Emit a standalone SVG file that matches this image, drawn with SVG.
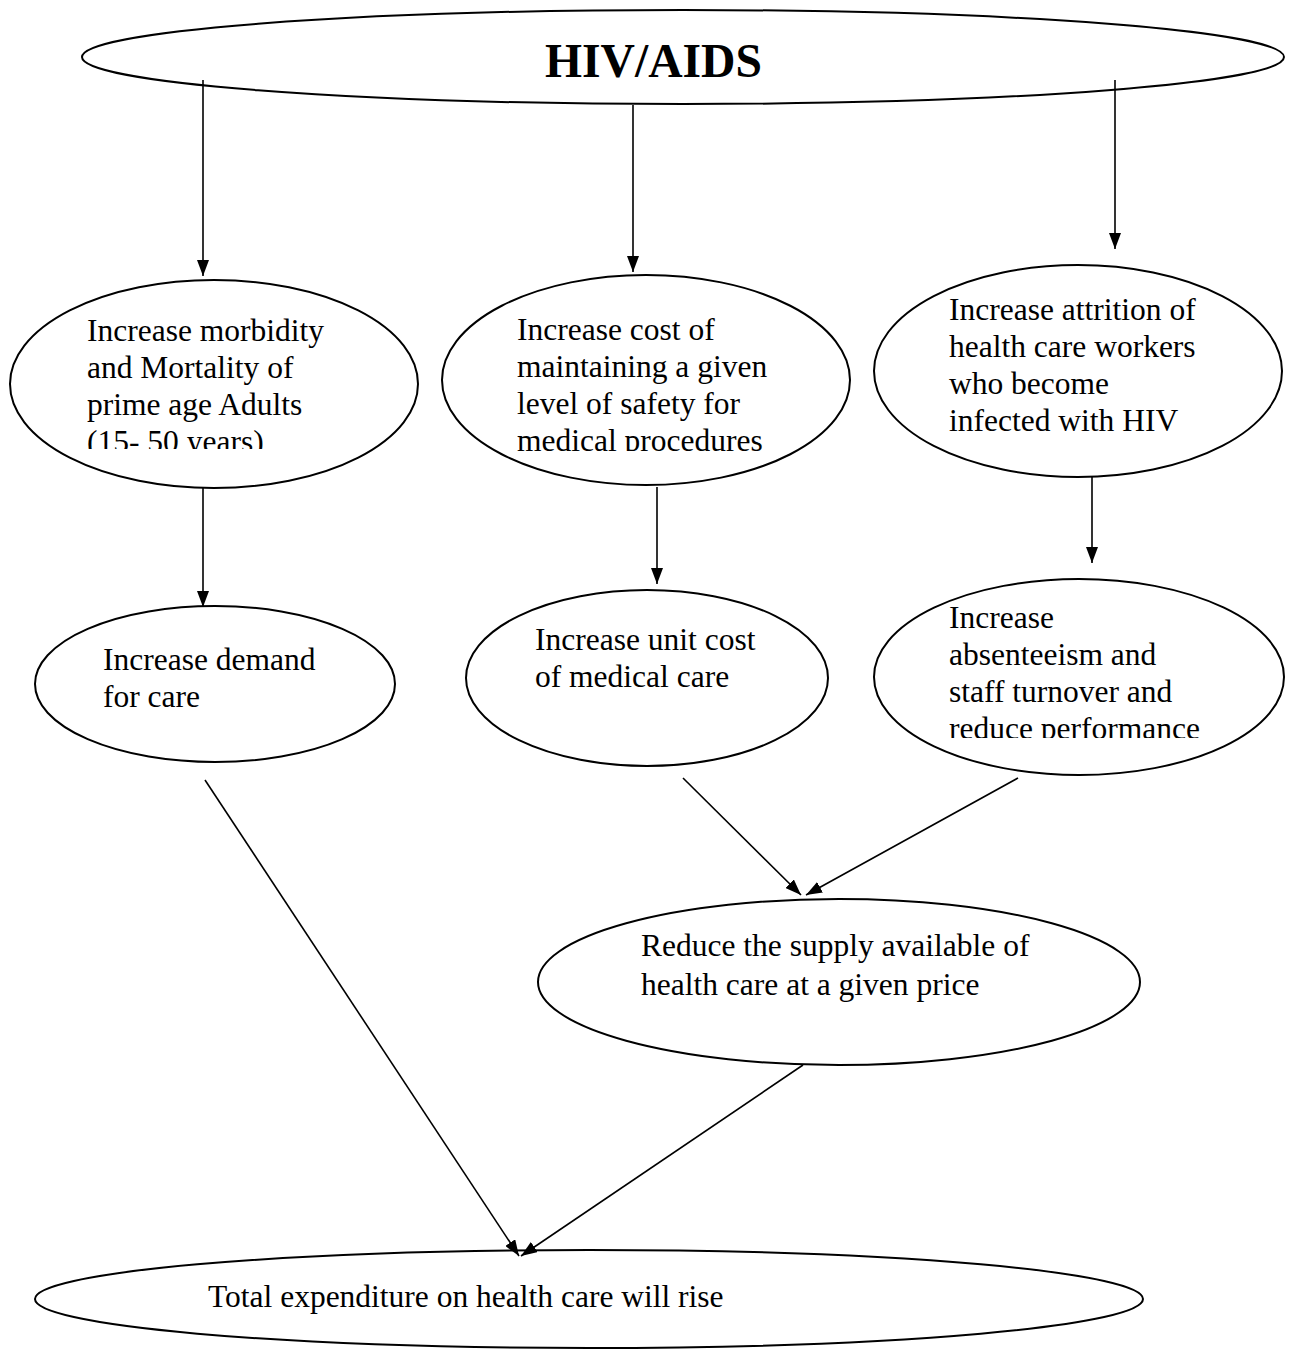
<svg xmlns="http://www.w3.org/2000/svg" width="1292" height="1349" viewBox="0 0 1292 1349">
<style>
.n{fill:#fff;stroke:#000;stroke-width:2}
.t{font-family:"Liberation Serif","Times New Roman",serif;font-size:31.5px;fill:#000}
.h{font-family:"Liberation Serif","Times New Roman",serif;font-size:48px;font-weight:bold;fill:#000}
.c{stroke:#000;stroke-width:1.6;fill:none;marker-end:url(#ah)}
</style>
<defs>
<marker id="ah" viewBox="0 0 16 12" refX="16" refY="6" markerWidth="16" markerHeight="12" markerUnits="userSpaceOnUse" orient="auto">
<path d="M0,0 L16,6 L0,12 Z" fill="#000"/>
</marker>
<clipPath id="c1"><rect x="0" y="280" width="440" height="169"/></clipPath>
<clipPath id="c2"><rect x="440" y="270" width="420" height="181"/></clipPath>
<clipPath id="c6"><rect x="870" y="575" width="420" height="163"/></clipPath>
</defs>
<rect width="1292" height="1349" fill="#fff"/>
<g id="n0">
<ellipse class="n" cx="683" cy="57" rx="601" ry="47"/>
<text class="h" x="545" y="77" textLength="217" lengthAdjust="spacingAndGlyphs">HIV/AIDS</text>
</g>
<g id="n1">
<ellipse class="n" cx="214" cy="384" rx="204" ry="104"/>
<text class="t" clip-path="url(#c1)"><tspan x="87" y="341">Increase morbidity</tspan><tspan x="87" y="378">and Mortality of</tspan><tspan x="87" y="415">prime age Adults</tspan><tspan x="87" y="452">(15- 50 years)</tspan></text>
</g>
<g id="n2">
<ellipse class="n" cx="646" cy="380" rx="204" ry="105"/>
<text class="t" clip-path="url(#c2)"><tspan x="517" y="340">Increase cost of</tspan><tspan x="517" y="377">maintaining a given</tspan><tspan x="517" y="414">level of safety for</tspan><tspan x="517" y="451">medical procedures</tspan></text>
</g>
<g id="n3">
<ellipse class="n" cx="1078" cy="371" rx="204" ry="106"/>
<text class="t"><tspan x="949" y="320">Increase attrition of</tspan><tspan x="949" y="357">health care workers</tspan><tspan x="949" y="394">who become</tspan><tspan x="949" y="431">infected with HIV</tspan></text>
</g>
<g id="n4">
<ellipse class="n" cx="215" cy="684" rx="180" ry="78"/>
<text class="t"><tspan x="103" y="670">Increase demand</tspan><tspan x="103" y="707">for care</tspan></text>
</g>
<g id="n5">
<ellipse class="n" cx="647" cy="678" rx="181" ry="88"/>
<text class="t"><tspan x="535" y="650">Increase unit cost</tspan><tspan x="535" y="687">of medical care</tspan></text>
</g>
<g id="n6">
<ellipse class="n" cx="1079" cy="677" rx="205" ry="98"/>
<text class="t" clip-path="url(#c6)"><tspan x="949" y="628">Increase</tspan><tspan x="949" y="665">absenteeism and</tspan><tspan x="949" y="702">staff turnover and</tspan><tspan x="949" y="739">reduce performance</tspan></text>
</g>
<g id="n7">
<ellipse class="n" cx="839" cy="982" rx="301" ry="83"/>
<text class="t"><tspan x="641" y="956">Reduce the supply available of</tspan><tspan x="641" y="995">health care at a given price</tspan></text>
</g>
<g id="n8">
<ellipse class="n" cx="589" cy="1299" rx="554" ry="49"/>
<text class="t" x="208" y="1307">Total expenditure on health care will rise</text>
</g>
<g id="connectors">
<line class="c" x1="203" y1="80" x2="203" y2="276"/>
<line class="c" x1="633" y1="105" x2="633" y2="272"/>
<line class="c" x1="1115" y1="80" x2="1115" y2="249"/>
<line class="c" x1="203" y1="488" x2="203" y2="607"/>
<line class="c" x1="657" y1="487" x2="657" y2="584"/>
<line class="c" x1="1092" y1="476" x2="1092" y2="563"/>
<line class="c" x1="683" y1="778" x2="801" y2="895"/>
<line class="c" x1="1018" y1="778" x2="806" y2="895"/>
<line class="c" x1="205" y1="780" x2="519" y2="1256"/>
<line class="c" x1="803" y1="1065" x2="521" y2="1256"/>
</g>
</svg>
